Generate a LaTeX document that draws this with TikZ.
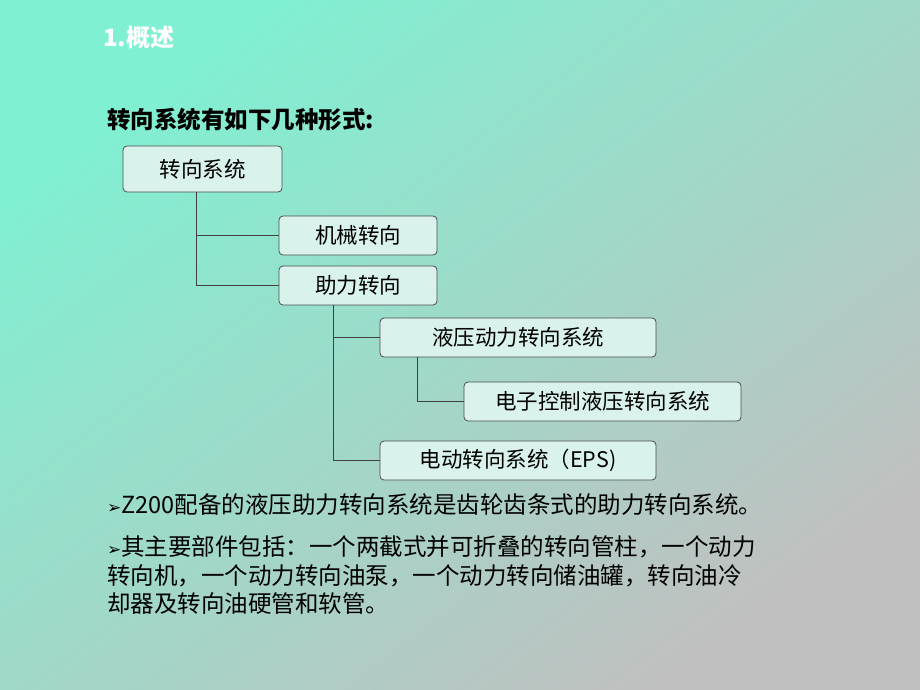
\documentclass[tikz,border=0pt]{standalone}
\usepackage{fontspec}
\setmainfont{Liberation Sans}
\newfontfamily\cjk{Noto Sans CJK SC}
\newfontfamily\sym{DejaVu Sans}
\begin{document}
\begin{tikzpicture}[x=1pt,y=-1pt,
  box/.style={draw=black!70,fill={rgb,255:red,218;green,242;blue,236},rounded corners=4pt,line width=0.8pt,inner sep=0pt,font=\cjk\fontsize{21.5}{24}\selectfont},
  conn/.style={draw=black!75,line width=0.8pt},
  txt/.style={anchor=west,inner sep=0pt,font=\cjk\fontsize{23.5}{26}\selectfont}]
\shade[shading=axis,left color={rgb,255:red,128;green,240;blue,210},right color={rgb,255:red,192;green,192;blue,192},shading angle=37] (0,0) rectangle (920,690);
\useasboundingbox (0,0) rectangle (920,690);
\node[txt,font=\cjk\bfseries\fontsize{24}{28}\selectfont,text=white] (title) at (103,37) {1.概述};
\node[txt,font=\cjk\bfseries\fontsize{23.5}{26}\selectfont] (head) at (107,120) {转向系统有如下几种形式:};
\node[box,minimum width=159,minimum height=46] (a) at (202.5,169) {转向系统};
\node[box,minimum width=158,minimum height=39] (b) at (358,235.5) {机械转向};
\node[box,minimum width=158,minimum height=39] (c) at (358,285.5) {助力转向};
\node[box,minimum width=276,minimum height=39] (d) at (518,337.5) {液压动力转向系统};
\node[box,minimum width=277,minimum height=39] (e) at (602.5,401.5) {电子控制液压转向系统};
\node[box,minimum width=276,minimum height=39] (f) at (518,460.5) {电动转向系统（EPS)};
\draw[conn] (a.south -| 196,0) |- (b.west);
\draw[conn] (a.south -| 196,0) |- (c.west);
\draw[conn] (c.south -| 333,0) |- (d.west);
\draw[conn] (c.south -| 333,0) |- (f.west);
\draw[conn] (d.south -| 417,0) |- (e.west);
\node[txt] (p1) at (107,505) {{\sym\fontsize{17}{18}\selectfont ➢}Z200配备的液压助力转向系统是齿轮齿条式的助力转向系统。};
\node[txt] (p2) at (107,547) {{\sym\fontsize{17}{18}\selectfont ➢}其主要部件包括：一个两截式并可折叠的转向管柱，一个动力};
\node[txt] (p3) at (107,576) {转向机，一个动力转向油泵，一个动力转向储油罐，转向油冷};
\node[txt] (p4) at (107,604) {却器及转向油硬管和软管。};
\end{tikzpicture}
\end{document}
